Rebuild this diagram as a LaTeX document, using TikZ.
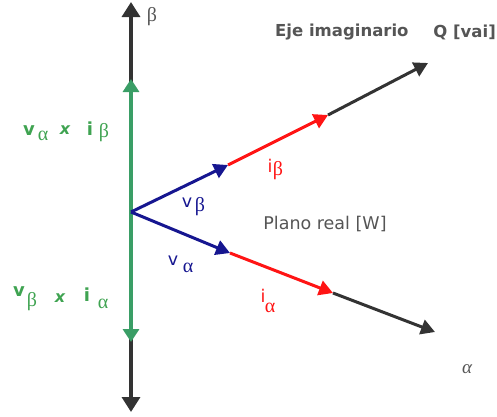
\documentclass[tikz,border=0pt]{standalone}
\usepackage{fontspec}
\setmainfont{DejaVu Sans}
\newfontfamily\gr{Liberation Serif}
\usetikzlibrary{arrows.meta}
\definecolor{axgray}{HTML}{333333}
\definecolor{txgray}{HTML}{555555}
\definecolor{grn}{HTML}{3A9E66}
\definecolor{grntx}{HTML}{3FA351}
\definecolor{navy}{HTML}{161690}
\definecolor{rd}{HTML}{FF1414}
\tikzset{
  axis/.style={draw=axgray,line width=3.4pt,-{Triangle[length=15pt,width=18pt]}},
  gaxis/.style={draw=grn,line width=3.4pt,{Triangle[length=13pt,width=16pt]}-{Triangle[length=13pt,width=16pt]}},
  vec/.style={line width=3pt,-{Triangle[length=14pt,width=15pt]}},
  lbl/.style={inner sep=0pt,font=\fontsize{17.5}{20}\selectfont},
  sub/.style={inner sep=0pt,font=\gr\fontsize{20}{22}\selectfont},
}
\begin{document}
\begin{tikzpicture}[x=1pt,y=-1pt]
\useasboundingbox (0,0) rectangle (497,416);
\coordinate (O) at (131,212);
\coordinate (top) at (131,2);
\coordinate (bot) at (131,412);
\coordinate (gtop) at (131,79);
\coordinate (gbot) at (131,342);
\coordinate (gtopin) at (131,92);
\coordinate (gbotin) at (131,329);
\coordinate (vb) at (228,165);
\coordinate (ib) at (328,115);
\coordinate (qb) at (428,63);
\coordinate (va) at (230,253);
\coordinate (ia) at (333,293);
\coordinate (qa) at (435,332);
% axes
\draw[axis] (gtopin) -- (top);
\draw[axis] (gbotin) -- (bot);
\draw[gaxis] (gbot) -- (gtop);
% vectors
\draw[vec,draw=axgray,fill=axgray] (ib) -- (qb);
\draw[vec,draw=rd,fill=rd] (vb) -- (ib);
\draw[vec,draw=navy,fill=navy] (O) -- (vb);
\draw[vec,draw=axgray,fill=axgray] (ia) -- (qa);
\draw[vec,draw=rd,fill=rd] (va) -- (ia);
\draw[vec,draw=navy,fill=navy] (O) -- (va);
% labels
\node[sub,text=txgray] (lbeta) at (152,17) {β};
\node[sub,text=txgray,font=\gr\itshape\fontsize{19}{22}\selectfont] (lalpha) at (467,369) {α};
\node[lbl,text=txgray,font=\bfseries\fontsize{16.5}{20}\selectfont,anchor=west] (eje) at (275,32) {Eje imaginario};
\node[lbl,text=txgray,font=\bfseries\fontsize{16.5}{20}\selectfont,anchor=east] (q) at (496,32) {Q [vai]};
\node[lbl,text=txgray] (plano) at (325,224) {Plano real [W]};
% green top label
\node[lbl,text=grntx,font=\bfseries\fontsize{18}{20}\selectfont] (g1v) at (29,131) {v};
\node[sub,text=grntx] (g1a) at (43,136) {α};
\node[lbl,text=grntx,font=\bfseries\itshape\fontsize{16}{20}\selectfont] (g1x) at (65,130) {x};
\node[lbl,text=grntx,font=\bfseries\fontsize{18}{20}\selectfont] (g1i) at (90,128.5) {i};
\node[sub,text=grntx] (g1b) at (104,133) {β};
% green bottom label
\node[lbl,text=grntx,font=\bfseries\fontsize{18}{20}\selectfont] (g2v) at (19,292) {v};
\node[sub,text=grntx] (g2b) at (32,302) {β};
\node[lbl,text=grntx,font=\bfseries\itshape\fontsize{16}{20}\selectfont] (g2x) at (60,298) {x};
\node[lbl,text=grntx,font=\bfseries\fontsize{18}{20}\selectfont] (g2i) at (87,295) {i};
\node[sub,text=grntx] (g2a) at (103,304) {α};
% blue labels
\node[lbl,text=navy] (bvb) at (187,203) {v};
\node[sub,text=navy] (bvbs) at (200,206.5) {β};
\node[lbl,text=navy] (bva) at (173,261) {v};
\node[sub,text=navy] (bvas) at (188,268) {α};
% red labels
\node[lbl,text=rd] (rib) at (270,166) {i};
\node[sub,text=rd] (ribs) at (278,171) {β};
\node[lbl,text=rd] (ria) at (263,296) {i};
\node[sub,text=rd] (rias) at (270,308) {α};
\end{tikzpicture}
\end{document}
